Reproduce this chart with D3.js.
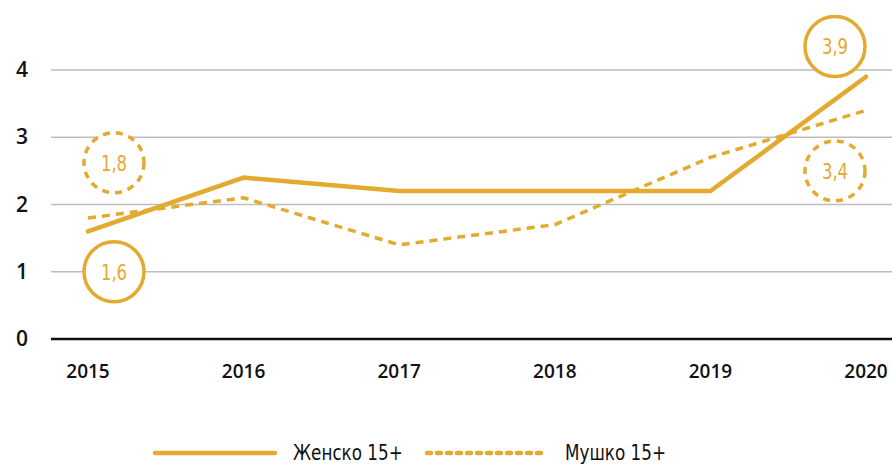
<!DOCTYPE html>
<html lang="sr">
  <head>
    <meta charset="UTF-8" />
    <title>Женско / Мушко 15+</title>
    <script src="https://d3js.org/d3.v7.min.js"></script>
    <style>
      body {
        margin: 0;
        background: #ffffff;
      }
      svg text {
        font-family: "DejaVu Sans", sans-serif;
      }
      svg text.axis {
        font-family: "Open Sans", sans-serif;
        font-weight: 600;
      }
    </style>
  </head>
  <body>
    <div id="chart"></div>
    <script>
      // data
      const years = ["2015", "2016", "2017", "2018", "2019", "2020"];
      const female = [1.6, 2.4, 2.2, 2.2, 2.2, 3.9];
      const male = [1.8, 2.1, 1.4, 1.7, 2.7, 3.4];
      const yTicks = [0, 1, 2, 3, 4];
      const seriesNames = ["Женско 15+", "Мушко 15+"];

      const gold = "#e2aa2e";
      const width = 892, height = 464;

      const svg = d3.select("#chart").append("svg")
        .attr("width", width).attr("height", height);

      const x = d3.scalePoint().domain(years).range([88, 866]);
      const y = d3.scaleLinear().domain([0, 4]).range([339, 70]);

      // gridlines
      svg.selectAll(".grid").data(yTicks.filter(d => d > 0)).enter()
        .append("line")
        .attr("x1", 51).attr("x2", width)
        .attr("y1", d => y(d)).attr("y2", d => y(d))
        .attr("stroke", "#bdbdbd").attr("stroke-width", 1.5);

      svg.append("line")
        .attr("x1", 51).attr("x2", width)
        .attr("y1", y(0)).attr("y2", y(0))
        .attr("stroke", "#111").attr("stroke-width", 2.5);

      // y labels
      svg.selectAll(".ylab").data(yTicks).enter()
        .append("text").attr("class", "axis")
        .attr("x", 22).attr("y", d => y(d) + 7)
        .attr("text-anchor", "middle")
        .attr("font-size", 21)
        .attr("fill", "#111")
        .text(d => d);

      // x labels
      svg.selectAll(".xlab").data(years).enter()
        .append("text").attr("class", "axis")
        .attr("x", d => x(d)).attr("y", 378)
        .attr("text-anchor", "middle")
        .attr("font-size", 19)
        .attr("fill", "#111")
        .text(d => d);

      const line = d3.line().x((d, i) => x(years[i])).y(d => y(d));

      svg.append("path").datum(male)
        .attr("d", line).attr("fill", "none")
        .attr("stroke", gold).attr("stroke-width", 3.5)
        .attr("stroke-dasharray", "8,6");

      svg.append("path").datum(female)
        .attr("d", line).attr("fill", "none")
        .attr("stroke", gold).attr("stroke-width", 4.5)
        .attr("stroke-linecap", "round");

      // value bubbles (first and last point of each series)
      const bubbles = [
        { year: "2015", at: 1, value: female[0], dashed: false },
        { year: "2015", at: 2.62, value: male[0], dashed: true },
        { year: "2020", at: 4.35, value: female[5], dashed: false },
        { year: "2020", at: 2.5, value: male[5], dashed: true }
      ];
      const dx = { "2015": 26, "2020": -31 };

      const g = svg.selectAll(".bubble").data(bubbles).enter().append("g")
        .attr("transform", d => `translate(${x(d.year) + dx[d.year]},${y(d.at)})`);
      g.append("circle")
        .attr("r", 30)
        .attr("fill", "#fff")
        .attr("stroke", gold).attr("stroke-width", 3.5)
        .attr("stroke-dasharray", d => d.dashed ? "7,6" : null);
      // condensed look
      g.append("text")
        .attr("transform", "translate(0,8) scale(0.75,1)")
        .attr("text-anchor", "middle")
        .attr("font-size", 22)
        .attr("fill", gold)
        .text(d => String(d.value).replace(".", ","));

      // legend
      const legend = svg.append("g");
      [0, 1].forEach(i => {
        const lx = i === 0 ? 155 : 427;
        legend.append("line")
          .attr("x1", lx).attr("x2", lx + 120)
          .attr("y1", 453).attr("y2", 453)
          .attr("stroke", gold).attr("stroke-width", 4.5)
          .attr("stroke-linecap", "round")
          .attr("stroke-dasharray", i === 1 ? "4,6" : null);
        legend.append("text")
          .attr("transform", `translate(${lx + 138},460) scale(0.8,1)`)
          .attr("font-size", 21).attr("fill", "#111")
          .text(seriesNames[i]);
      });
    </script>
  </body>
</html>
